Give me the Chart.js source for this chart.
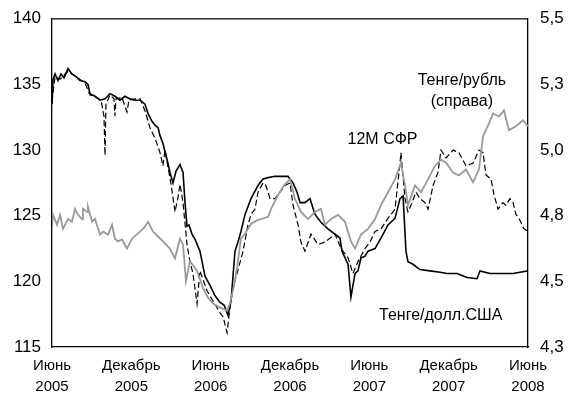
<!DOCTYPE html>
<html>
<head>
<meta charset="utf-8">
<script src="https://cdn.jsdelivr.net/npm/chart.js"></script>
<style>
  body { margin: 0; background: #fff; }
</style>
</head>
<body>
<canvas id="grafico" width="571" height="401"></canvas>
<script>
// x = месяцы от июня 2005
const meses = ['Июнь', 'Декабрь', 'Июнь', 'Декабрь', 'Июнь', 'Декабрь', 'Июнь'];
const anos = ['2005', '2005', '2006', '2006', '2007', '2007', '2008'];

// Тенге/долл.США (слева)
const usdX = [0, 0.08, 0.23, 0.45, 0.68, 0.91, 1.21, 1.51, 1.82, 2.12, 2.5, 2.72, 2.87, 3.25, 3.63, 4.01, 4.39, 4.76, 5.14, 5.52, 5.9, 6.28, 6.66, 7.03, 7.26, 7.56, 7.79, 8.02, 8.17, 8.39, 8.62, 8.77, 8.92, 9.15, 9.38, 9.68, 9.91, 10.06, 10.21, 10.36, 10.59, 10.82, 11.19, 11.57, 11.95, 12.33, 12.71, 13.01, 13.31, 13.54, 13.84, 14.07, 14.29, 14.6, 15.05, 15.58, 15.96, 16.34, 16.87, 17.4, 17.85, 18.23, 18.53, 18.76, 19.13, 19.51, 19.89, 20.34, 20.87, 21.4, 21.78, 21.93, 22.16, 22.39, 22.61, 22.92, 23.14, 23.37, 23.67, 23.9, 24.43, 24.88, 25.41, 25.94, 26.32, 26.55, 26.77, 26.92, 27.3, 27.83, 28.59, 29.35, 29.87, 30.63, 31.39, 32.14, 32.37, 33.13, 33.88, 34.41, 34.87, 35.4, 36];
const usdY = [133.5, 135.4, 135.8, 135.3, 135.8, 135.5, 136.2, 135.8, 135.6, 135.3, 135.2, 135.0, 134.3, 134.1, 133.8, 133.9, 134.3, 134.1, 133.8, 134.1, 133.9, 133.8, 133.8, 133.5, 132.8, 132.2, 131.9, 131.7, 131.1, 130.5, 129.6, 129.0, 128.3, 127.5, 128.4, 128.9, 128.3, 126.0, 124.2, 124.3, 123.6, 123.2, 122.3, 120.4, 119.7, 118.9, 118.4, 118.2, 117.4, 118.5, 122.3, 123.0, 123.8, 125.1, 126.3, 127.3, 127.8, 127.9, 128.0, 128.0, 128.0, 127.5, 126.8, 126.0, 126.0, 126.3, 125.1, 124.5, 124.0, 123.6, 123.3, 122.3, 121.8, 121.3, 118.8, 120.6, 120.8, 121.8, 121.9, 122.3, 122.5, 123.3, 124.3, 124.8, 126.3, 126.5, 122.3, 121.5, 121.3, 120.9, 120.8, 120.7, 120.6, 120.6, 120.3, 120.2, 120.8, 120.6, 120.6, 120.6, 120.6, 120.7, 120.8];

// 12М СФР (слева)
const sfrX = [0, 0.23, 0.61, 1.21, 1.82, 2.5, 2.87, 3.4, 3.71, 3.93, 4.01, 4.08, 4.39, 4.69, 4.76, 4.84, 5.29, 5.67, 5.82, 6.28, 6.66, 7.03, 7.41, 7.79, 8.17, 8.39, 8.55, 8.77, 8.92, 9.15, 9.3, 9.53, 9.68, 9.91, 10.21, 10.44, 10.66, 10.97, 11.19, 11.72, 12.18, 12.71, 12.94, 13.24, 13.46, 13.69, 13.99, 14.45, 14.82, 15.05, 15.35, 15.58, 15.96, 16.18, 16.49, 16.87, 17.24, 17.62, 18.0, 18.23, 18.61, 18.83, 19.13, 19.59, 20.12, 20.65, 21.4, 21.86, 22.39, 22.76, 23.14, 23.67, 24.05, 24.43, 24.88, 25.41, 25.94, 26.32, 26.39, 26.7, 26.92, 27.15, 27.53, 27.83, 28.21, 28.44, 28.82, 29.19, 29.42, 29.8, 30.33, 30.78, 31.31, 31.84, 32.29, 32.6, 32.82, 33.2, 33.43, 33.73, 34.11, 34.33, 34.64, 34.87, 35.09, 35.32, 35.7, 36];
const sfrY = [133.7, 135.6, 135.4, 136.0, 135.6, 135.1, 134.2, 134.0, 133.8, 132.6, 129.6, 133.5, 134.2, 133.9, 132.6, 133.9, 134.0, 132.9, 133.8, 133.9, 133.9, 133.0, 131.7, 130.9, 129.8, 128.8, 130.0, 128.7, 127.9, 126.4, 125.3, 126.4, 127.4, 126.0, 122.8, 121.5, 120.6, 118.3, 120.8, 119.3, 118.5, 117.6, 117.3, 116.1, 118.0, 119.5, 120.6, 122.3, 124.3, 125.1, 125.5, 126.8, 127.5, 127.3, 126.3, 126.3, 126.8, 127.3, 127.5, 125.8, 124.3, 123.0, 122.3, 123.6, 122.8, 123.0, 123.6, 122.5, 121.8, 120.6, 121.5, 122.5, 123.0, 123.8, 124.0, 124.8, 125.5, 129.0, 129.8, 126.3, 125.3, 125.8, 126.8, 126.3, 126.0, 125.5, 127.3, 128.3, 130.0, 129.4, 130.0, 129.8, 128.8, 129.0, 130.0, 129.8, 128.1, 127.8, 126.6, 125.5, 126.0, 125.8, 126.3, 126.0, 125.1, 124.8, 124.0, 123.8];

// Тенге/рубль (справа)
const rubX = [0, 0.08, 0.38, 0.61, 0.83, 1.21, 1.51, 1.74, 1.97, 2.27, 2.34, 2.65, 2.72, 3.03, 3.25, 3.63, 3.86, 4.24, 4.54, 4.76, 4.99, 5.29, 5.67, 6.05, 6.66, 7.03, 7.26, 7.64, 8.02, 8.39, 8.92, 9.3, 9.68, 9.91, 10.13, 10.44, 10.97, 11.42, 11.8, 12.18, 12.71, 13.24, 13.46, 13.76, 13.99, 14.29, 14.6, 15.05, 15.43, 15.81, 16.34, 16.57, 17.09, 17.55, 18.0, 18.38, 18.83, 19.36, 19.89, 20.34, 20.65, 21.1, 21.63, 22.16, 22.61, 22.92, 23.37, 23.9, 24.43, 24.88, 25.41, 25.94, 26.39, 26.7, 26.92, 27.45, 27.91, 28.44, 28.97, 29.42, 29.8, 30.33, 30.78, 31.31, 31.84, 32.29, 32.6, 33.05, 33.35, 33.81, 34.18, 34.56, 35.09, 35.62, 36];
const rubY = [4.740, 4.783, 4.747, 4.783, 4.732, 4.768, 4.758, 4.805, 4.783, 4.768, 4.805, 4.794, 4.812, 4.758, 4.768, 4.711, 4.722, 4.711, 4.747, 4.696, 4.686, 4.693, 4.660, 4.696, 4.722, 4.74, 4.758, 4.722, 4.704, 4.686, 4.66, 4.624, 4.696, 4.675, 4.541, 4.614, 4.578, 4.516, 4.48, 4.459, 4.444, 4.433, 4.459, 4.523, 4.588, 4.696, 4.714, 4.75, 4.761, 4.768, 4.776, 4.805, 4.855, 4.891, 4.913, 4.841, 4.794, 4.768, 4.794, 4.805, 4.747, 4.768, 4.783, 4.758, 4.686, 4.66, 4.711, 4.732, 4.768, 4.819, 4.866, 4.913, 4.974, 4.891, 4.819, 4.891, 4.866, 4.913, 4.963, 4.985, 4.974, 4.938, 4.927, 4.949, 4.902, 4.949, 5.071, 5.118, 5.154, 5.143, 5.165, 5.093, 5.107, 5.129, 5.107];

// подписи на графике: текст, месяц, значение по левой оси
const rotulos = [
  { texto: 'Тенге/рубль', x: 31.0, y: 135.3 },
  { texto: '(справа)', x: 31.0, y: 133.7 },
  { texto: '12M СФР', x: 25.0, y: 130.8 },
  { texto: 'Тенге/долл.США', x: 29.4, y: 117.4 }
];

function pares(xs, ys) {
  return xs.map(function (x, i) { return { x: x, y: ys[i] }; });
}

const fonte = 'Arial, "Liberation Sans", sans-serif';

const moldura = {
  id: 'moldura',
  afterDraw(chart) {
    const ctx = chart.ctx;
    const a = chart.chartArea;
    ctx.save();
    ctx.strokeStyle = '#000';
    ctx.lineWidth = 1.3;
    ctx.beginPath();
    ctx.moveTo(a.left, a.top);
    ctx.lineTo(a.right, a.top);
    ctx.stroke();
    ctx.fillStyle = '#000';
    ctx.font = '16px ' + fonte;
    ctx.textAlign = 'center';
    ctx.textBaseline = 'middle';
    rotulos.forEach(function (r) {
      ctx.fillText(r.texto, chart.scales.x.getPixelForValue(r.x), chart.scales.y.getPixelForValue(r.y));
    });
    ctx.restore();
  }
};

new Chart(document.getElementById('grafico'), {
  type: 'line',
  data: {
    datasets: [
      {
        label: 'Тенге/рубль',
        data: pares(rubX, rubY),
        yAxisID: 'y2',
        borderColor: '#999999',
        borderWidth: 1.8,
        pointRadius: 0,
        tension: 0
      },
      {
        label: '12M СФР',
        data: pares(sfrX, sfrY),
        yAxisID: 'y',
        borderColor: '#000',
        borderWidth: 1.2,
        borderDash: [6, 3],
        pointRadius: 0,
        tension: 0
      },
      {
        label: 'Тенге/долл.США',
        data: pares(usdX, usdY),
        yAxisID: 'y',
        borderColor: '#000',
        borderWidth: 1.6,
        pointRadius: 0,
        tension: 0
      }
    ]
  },
  options: {
    responsive: false,
    animation: false,
    layout: { padding: { top: 11, right: 0, left: 0, bottom: 0 } },
    plugins: {
      legend: { display: false },
      tooltip: { enabled: false }
    },
    scales: {
      x: {
        type: 'linear',
        min: 0,
        max: 36,
        grid: { display: false, drawTicks: true, tickLength: 5, color: '#000' },
        border: { color: '#000', width: 1.3 },
        ticks: {
          stepSize: 6,
          maxRotation: 0,
          autoSkip: false,
          color: '#000',
          padding: 4,
          font: { size: 15, family: fonte, lineHeight: 1.35 },
          callback: function (v) {
            const i = Math.round(v / 6);
            return [meses[i], anos[i]];
          }
        },
        afterFit: function (s) { s.height = 54; }
      },
      y: {
        position: 'left',
        min: 115,
        max: 140,
        grid: { display: false, drawTicks: true, tickLength: 5, color: '#000' },
        border: { color: '#000', width: 1.3 },
        ticks: {
          stepSize: 5,
          color: '#000',
          padding: 6,
          font: { size: 17, family: fonte, lineHeight: 0.8 }
        },
        afterFit: function (s) { s.width = 52; }
      },
      y2: {
        position: 'right',
        min: 4.3,
        max: 5.5,
        grid: { display: false, drawTicks: false },
        border: { color: '#000', width: 1.3 },
        ticks: {
          count: 6,
          color: '#000',
          padding: 12,
          font: { size: 17, family: fonte, lineHeight: 0.8 },
          callback: function (v) { return v.toFixed(1).replace('.', ','); }
        },
        afterFit: function (s) { s.width = 43; }
      }
    }
  },
  plugins: [moldura]
});
</script>
</body>
</html>
